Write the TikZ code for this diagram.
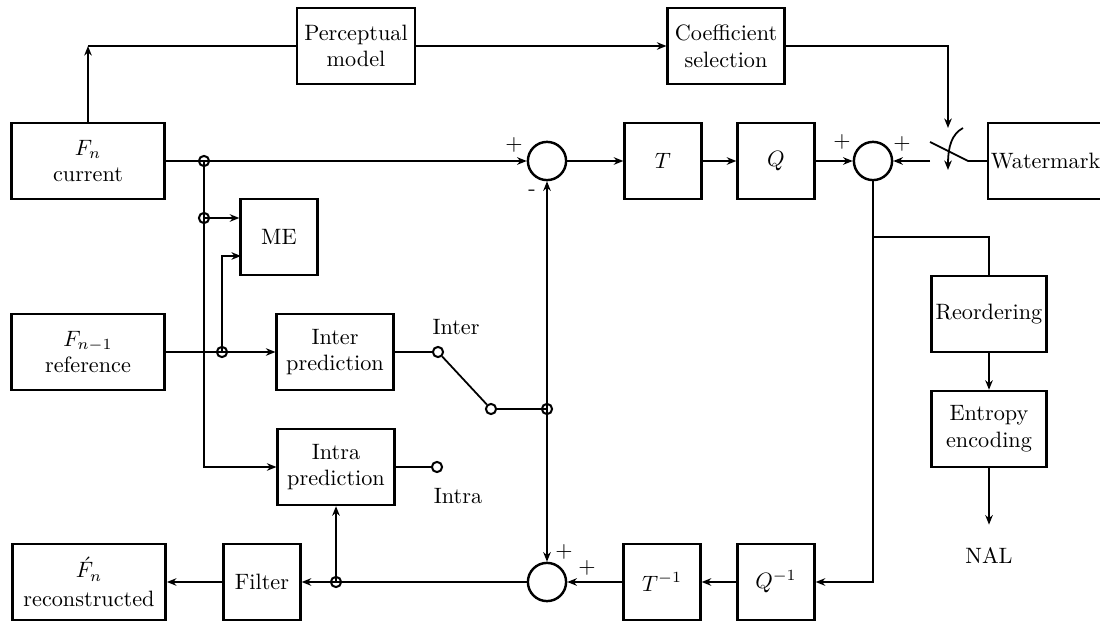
\documentclass[tikz,border=0pt]{standalone}
\usetikzlibrary{arrows.meta}
\begin{document}
\begin{tikzpicture}[x=0.45pt,y=-0.45pt,line width=0.8pt,
  blk/.style={draw,line width=1.1pt,align=center,minimum height=34.2pt,inner sep=1pt},
  sq/.style={blk,minimum width=34.6pt},
  wide/.style={blk,minimum width=52.5pt},
  sumc/.style={draw,circle,line width=1.1pt,minimum size=17.2pt,inner sep=0pt},
  jct/.style={draw,circle,line width=0.9pt,minimum size=4.6pt,inner sep=0pt},
  cnt/.style={jct,fill=white},
  >={Stealth[length=4.3pt,width=3.4pt]}]
  \useasboundingbox (0,0) rectangle (1100,622);
  % blocks
  \node [blk,minimum width=69pt] (cur) at (88,161) {$F_n$\\current};
  \node [blk,minimum width=69pt] (ref) at (88,352) {$F_{n-1}$\\reference};
  \node [blk,minimum width=69pt] (rec) at (89,582) {$\acute{F}_n$\\[1pt]reconstructed};
  \node [wide,minimum width=53pt] (perc) at (356,46) {Perceptual\\model};
  \node [wide] (coef) at (726,46) {Coefficient\\selection};
  \node [sq] (me) at (279,237) {ME};
  \node [wide] (inter) at (335,352) {Inter\\prediction};
  \node [wide] (intra) at (336,467) {Intra\\prediction};
  \node [sumc] (sub) at (547,161) {};
  \node [sq] (tr) at (663,161) {$T$};
  \node [sq] (qu) at (776,161) {$Q$};
  \node [sumc] (add) at (873,161) {};
  \node [blk,anchor=west,inner xsep=1.2pt] (wm) at (987,161) {Watermark};
  \node [wide,minimum width=51.7pt] (reo) at (989,314) {Reordering};
  \node [wide,minimum width=51.7pt] (ent) at (989,429) {Entropy\\encoding};
  \node (nal) at (989,556) {NAL};
  \node [sq] (qi) at (776,582) {$Q^{-1}$};
  \node [sq] (ti) at (662,582) {$T^{-1}$};
  \node [sumc] (rsum) at (547,582) {};
  \node [sq] (filt) at (262,582) {Filter};
  % junctions and switch contacts
  \node [jct] (j1) at (204,161) {};
  \node [jct] (j2) at (204,218) {};
  \node [jct] (j3) at (222,352) {};
  \node [jct] (j4) at (336,582) {};
  \node [jct] (j5) at (547,409) {};
  \node [cnt] (sinter) at (438,352) {};
  \node [cnt] (spivot) at (491,409) {};
  \node [cnt] (sintra) at (437,467) {};
  \coordinate (corner) at (cur.north |- perc.west);
  \coordinate (mein) at (241,256);
  \coordinate (split) at (873,237);
  \coordinate (swa) at (930,161);
  \coordinate (swb) at (930,142);
  \coordinate (swc) at (968,161);
  \coordinate (ctl) at (948,128);
  \coordinate (ctlb) at (963,128);
  \coordinate (ctle) at (948,170);
  % top path
  \draw [->] (cur.north) -- (corner);
  \draw (corner) -- (perc.west);
  \draw [->] (perc.east) -- (coef.west);
  \draw [->] (coef.east) -| (ctl);
  \draw [->] (ctlb) .. controls (952,134) and (948,146) .. (ctle);
  \draw (wm.west) -- (swc) -- (swb);
  \draw [->] (swa) -- (add.east);
  % forward path
  \draw [->] (cur.east) -- (j1.center) -- (sub.west);
  \draw [->] (sub.east) -- (tr.west);
  \draw [->] (tr.east) -- (qu.west);
  \draw [->] (qu.east) -- (add.west);
  \draw (add.south) -- (split);
  \draw (split) -| (reo.north);
  \draw [->] (reo.south) -- (ent.north);
  \draw [->] (ent.south) -- ([yshift=6.8pt]nal.north);
  % prediction
  \draw (j1.center) -- (j2.center);
  \draw [->] (j2.center) -- (j2 -| me.west);
  \draw [->] (j2.center) |- (intra.west);
  \draw [->] (ref.east) -- (j3.center) -- (inter.west);
  \draw [->] (j3.center) |- (mein);
  \draw (inter.east) -- (sinter);
  \draw (sinter) -- (spivot);
  \draw (spivot) -- (j5.center);
  \draw (intra.east) -- (sintra);
  \draw [->] (j5.center) -- (sub.south);
  \draw [->] (j5.center) -- (rsum.north);
  % reconstruction
  \draw [->] (split) |- (qi.east);
  \draw [->] (qi.west) -- (ti.east);
  \draw [->] (ti.west) -- (rsum.east);
  \draw [->] (rsum.west) -- (j4.center) -- (filt.east);
  \draw [->] (j4.center) -- (j4 |- intra.south);
  \draw [->] (filt.west) -- (rec.east);
  % labels
  \node (lsubp) at (514,145) {+};
  \node (lsubm) at (532,193) {-};
  \node (laddl) at (842,142) {+};
  \node (laddr) at (902,144) {+};
  \node (lrsumt) at (564,552) {+};
  \node (lrsumr) at (587,568) {+};
  \node (linter) at (456,327) {Inter};
  \node (lintra) at (458,496) {Intra};
\end{tikzpicture}
\end{document}
